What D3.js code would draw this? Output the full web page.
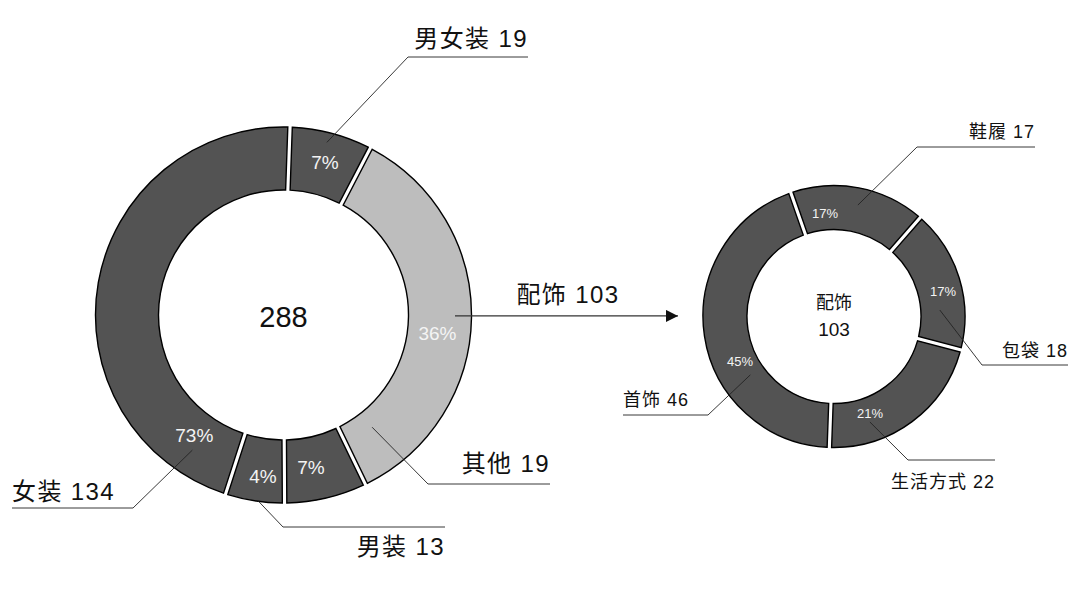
<!DOCTYPE html>
<html>
<head>
  <meta charset="utf-8"/>
  <style>
    body { margin: 0; background: #fff; }
    svg { display: block; background: #fff; }
    text { font-family: 'Liberation Sans', 'Noto Sans CJK SC', sans-serif; }
  </style>
</head>
<body>
  <div id="chart"></div>
  <script src="https://d3js.org/d3.v7.min.js"></script>
  <script>
    // data
    const mainCats = ['男女装', '配饰', '其他', '男装', '女装'];
    const mainVals = [19, 103, 19, 13, 134];
    const mainPct = ['7%', '36%', '7%', '4%', '73%'];
    const mainTotal = 288;

    const subCats = ['鞋履', '包袋', '生活方式', '首饰'];
    const subVals = [17, 18, 22, 46];
    const subPct = ['17%', '17%', '21%', '45%'];
    const subName = '配饰';

    const width = 1080, height = 594;
    const deg = Math.PI / 180;

    const svg = d3.select('#chart')
        .append('svg')
        .attr('width', width)
        .attr('height', height);

    svg.append('defs').append('marker')
        .attr('id', 'arrow')
        .attr('viewBox', '0 0 10 10')
        .attr('refX', 10).attr('refY', 5)
        .attr('markerWidth', 14).attr('markerHeight', 12)
        .attr('markerUnits', 'userSpaceOnUse')
        .attr('orient', 'auto')
        .append('path')
        .attr('d', 'M0,0L10,5L0,10Z')
        .attr('fill', '#111');

    // polar helper, angle in degrees clockwise from 12 o'clock
    function polar(c, a, r) {
      return [c.x + r * Math.sin(a * deg), c.y - r * Math.cos(a * deg)];
    }

    function donut(opt) {
      let g = svg.append('g').attr('transform', 'translate(' + opt.c.x + ',' + opt.c.y + ')');
      let pie = d3.pie().sort(null)
          .startAngle(opt.start)
          .endAngle(opt.start + 2 * Math.PI)
          .padAngle(0.045);
      let arc = d3.arc()
          .innerRadius(opt.r0)
          .outerRadius(opt.r1)
          .padRadius(100);

      g.selectAll('path.slice')
          .data(pie(opt.values))
          .join('path')
          .attr('class', 'slice')
          .attr('d', arc)
          .attr('fill', (d, i) => opt.colors[i])
          .attr('stroke', '#000')
          .attr('stroke-width', 1.4);

      // percent labels
      opt.pct.forEach((t, i) => {
        let p = polar({x: 0, y: 0}, opt.pctPos[i][0], opt.pctPos[i][1]);
        g.append('text')
            .attr('x', p[0]).attr('y', p[1])
            .attr('dy', '0.36em')
            .attr('text-anchor', 'middle')
            .attr('fill', '#f4f4f4')
            .attr('font-size', opt.pctSize)
            .text(t);
      });

      // callouts
      opt.callouts.forEach((co, i) => {
        if (co == null) return;
        let p = polar(opt.c, co.a, co.r);
        svg.append('polyline')
            .attr('points', [p, co.e, [co.end, co.e[1]]].map(q => q.join(',')).join(' '))
            .attr('fill', 'none')
            .attr('stroke', '#222')
            .attr('stroke-width', 0.9);
        let goesRight = co.end > co.e[0];
        svg.append('text')
            .attr('x', co.end)
            .attr('y', co.e[1] + co.dy)
            .attr('text-anchor', goesRight ? 'end' : 'start')
            .attr('font-size', opt.labelSize)
            .attr('letter-spacing', opt.spacing)
            .attr('fill', '#111')
            .text(opt.cats[i] + ' ' + opt.values[i]);
      });
      return g;
    }

    // main donut
    const mainC = {x: 283.5, y: 315};
    const mainG = donut({
      c: mainC, r0: 125, r1: 188,
      start: 2 * deg,
      values: mainVals, cats: mainCats, pct: mainPct,
      colors: ['#535353', '#bdbdbd', '#535353', '#535353', '#535353'],
      pctSize: 19, labelSize: 24, spacing: 1.4,
      pctPos: [[15.2, 158], [96.7, 155], [169.8, 155], [187.3, 162], [216.5, 150]],
      callouts: [
        {a: 14.1, r: 178, e: [408, 57], end: 528, dy: -10},
        null,
        {a: 141.7, r: 143, e: [428, 484], end: 550, dy: -12},
        {a: 188, r: 187, e: [283, 527], end: 445, dy: 28},
        {a: 214, r: 163, e: [133, 508], end: 12, dy: -8}
      ]
    });

    mainG.append('text')
        .attr('y', 2).attr('dy', '0.36em')
        .attr('text-anchor', 'middle')
        .attr('font-size', 29)
        .attr('fill', '#111')
        .text(mainTotal);

    // arrow from 配饰 to the sub donut
    const aStart = polar(mainC, 90.3, 171.5);
    svg.append('line')
        .attr('x1', aStart[0]).attr('y1', aStart[1])
        .attr('x2', 678).attr('y2', aStart[1])
        .attr('stroke', '#333')
        .attr('stroke-width', 1.2)
        .attr('marker-end', 'url(#arrow)');
    svg.append('text')
        .attr('x', 568).attr('y', aStart[1] - 13)
        .attr('text-anchor', 'middle')
        .attr('font-size', 24)
        .attr('letter-spacing', 1.4)
        .attr('fill', '#111')
        .text(mainCats[1] + ' ' + mainVals[1]);

    // sub donut
    const subSum = d3.sum(subVals);
    const subStart = Math.PI - d3.sum(subVals.slice(0, 3)) / subSum * 2 * Math.PI;
    const subG = donut({
      c: {x: 834, y: 316.5}, r0: 87, r1: 131,
      start: subStart,
      values: subVals, cats: subCats, pct: subPct,
      colors: ['#535353', '#535353', '#535353', '#535353'],
      pctSize: 13, labelSize: 18, spacing: 1,
      pctPos: [[-5, 104], [76.8, 112], [159.5, 103], [244.7, 104]],
      callouts: [
        {a: 12.1, r: 114, e: [917, 147], end: 1035, dy: -9},
        {a: 86.5, r: 106, e: [982, 365], end: 1068, dy: -8},
        {a: 161.2, r: 111.5, e: [908, 460], end: 995, dy: 28},
        {a: 235.1, r: 102, e: [708, 415], end: 623, dy: -9}
      ]
    });

    subG.append('text')
        .attr('y', -14).attr('dy', '0.36em')
        .attr('text-anchor', 'middle')
        .attr('font-size', 18)
        .attr('fill', '#111')
        .text(subName);
    subG.append('text')
        .attr('y', 13).attr('dy', '0.36em')
        .attr('text-anchor', 'middle')
        .attr('font-size', 19)
        .attr('fill', '#111')
        .text(subSum);
  </script>
</body>
</html>
